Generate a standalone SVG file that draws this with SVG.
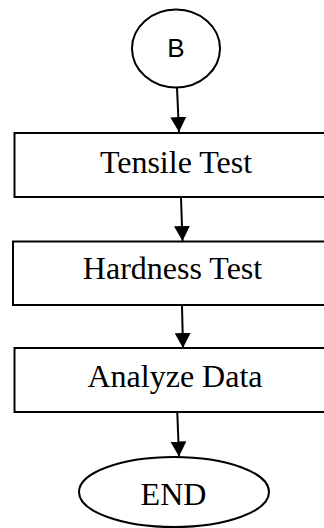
<svg xmlns="http://www.w3.org/2000/svg" width="324" height="528" viewBox="0 0 324 528">
<style>
.shape{fill:#fff;stroke:#000;stroke-width:2}
.t{font-family:"Liberation Serif","Times New Roman",serif;font-size:32px;fill:#000;text-anchor:middle}
.s{font-family:"Liberation Sans",Arial,sans-serif;font-size:26px;fill:#000;text-anchor:middle}
.c{stroke:#000;stroke-width:2;fill:none}
</style>
<defs>
<marker id="ah" markerUnits="userSpaceOnUse" markerWidth="16" markerHeight="16" refX="15" refY="8" orient="auto">
<path d="M0,0 L15,8 L0,16 Z" fill="#000"/>
</marker>
</defs>
<rect width="324" height="528" fill="#fff"/>
<g id="node-b">
<ellipse class="shape" cx="176" cy="48.5" rx="44" ry="39"/>
<text class="s" x="176" y="57">B</text>
</g>
<g id="node-tensile">
<rect class="shape" x="14.5" y="133" width="330" height="64"/>
<text class="t" x="176" y="173">Tensile Test</text>
</g>
<g id="node-hardness">
<rect class="shape" x="13" y="241.5" width="330" height="63.5"/>
<text class="t" x="172.5" y="279">Hardness Test</text>
</g>
<g id="node-analyze">
<rect class="shape" x="14.5" y="348" width="330" height="64"/>
<text class="t" x="175" y="387">Analyze Data</text>
</g>
<g id="node-end">
<ellipse class="shape" cx="174" cy="492" rx="95" ry="35"/>
<text class="t" x="173.5" y="505">END</text>
</g>
<g id="connectors">
<line class="c" x1="177" y1="88" x2="179" y2="132" marker-end="url(#ah)"/>
<line class="c" x1="181" y1="198" x2="182.5" y2="241" marker-end="url(#ah)"/>
<line class="c" x1="182" y1="306" x2="183" y2="348" marker-end="url(#ah)"/>
<line class="c" x1="177.3" y1="413" x2="179" y2="456.5" marker-end="url(#ah)"/>
</g>
</svg>
